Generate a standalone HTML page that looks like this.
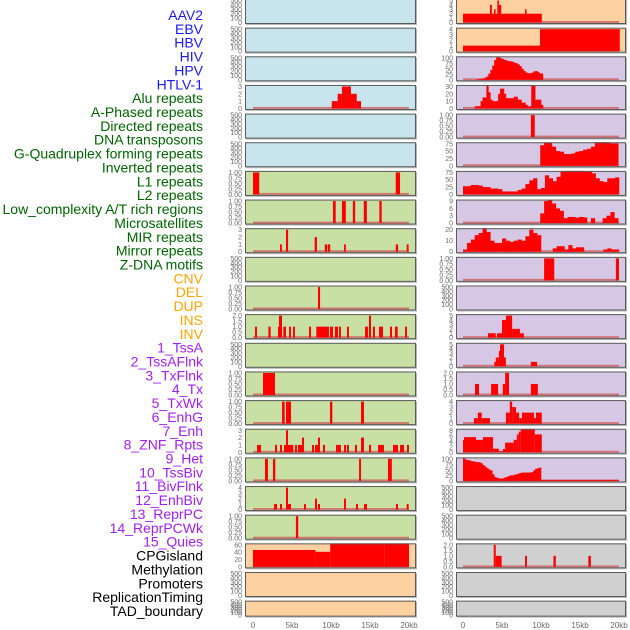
<!DOCTYPE html>
<html><head><meta charset="utf-8"><style>
html,body{margin:0;padding:0;background:#fff;}
svg{display:block;font-family:"Liberation Sans",sans-serif;}
</style></head><body>
<svg id="chart" width="630" height="630" viewBox="0 0 630 630" xmlns="http://www.w3.org/2000/svg"></svg>
<script>
// ---------- data ----------
const trackLabels = ["AAV2","EBV","HBV","HIV","HPV","HTLV-1","Alu repeats","A-Phased repeats","Directed repeats","DNA transposons","G-Quadruplex forming repeats","Inverted repeats","L1 repeats","L2 repeats","Low_complexity A/T rich regions","Microsatellites","MIR repeats","Mirror repeats","Z-DNA motifs","CNV","DEL","DUP","INS","INV","1_TssA","2_TssAFlnk","3_TxFlnk","4_Tx","5_TxWk","6_EnhG","7_Enh","8_ZNF_Rpts","9_Het","10_TssBiv","11_BivFlnk","12_EnhBiv","13_ReprPC","14_ReprPCWk","15_Quies","CPGisland","Methylation","Promoters","ReplicationTiming","TAD_boundary"];
const groupSizes = [6,13,5,15,5];
const groupColors = ["#1a1aee","#006400","#ffa500","#a020f0","#000000"];
const kbTicks = [0,5,10,15,20];
const kbTickLabels = ["0","5kb","10kb","15kb","20kb"];

const ticks500 = ["0","100","200","300","400","500"];
const ticks1 = ["0.00","0.25","0.50","0.75","1.00"];
const ticks2 = ["0.0","0.5","1.0","1.5","2.0"];
const ticks3 = ["0","1","2","3"];
const ticks4 = ["0","1","2","3","4"];
const ticks5 = ["0","1","2","3","4","5"];
const ticks100 = ["0","25","50","75","100"];
const ticks75 = ["0","25","50","75"];
const ticks30 = ["0","10","20","30"];
const ticks9 = ["0","3","6","9"];
const ticks20 = ["0","10","20"];
const ticks8 = ["0","2","4","6","8"];
const ticksCpg = ["0","20","40","60"];

// segments: [startKb, endKb, value]
const aluSegs = [[10.1,10.85,1],[10.85,11.4,2],[11.4,12.56,3],[12.56,13.3,2],[13.3,13.85,1]];
const l1Segs = [[0,0.8,1],[18.3,18.85,1]];
const l2Segs = [[10.25,10.6,1],[11.4,11.9,1],[12.8,13.1,1],[14.2,14.6,1],[16.2,16.5,1]];
const lowCompSegs = [[3.46,3.7,1],[4.23,4.5,3],[7.9,8.2,2],[9.2,9.5,1],[9.6,9.9,1],[11.67,11.9,1],[18.3,18.6,1],[19.7,19.95,1]];
const mirSegs = [[8.33,8.6,1]];
const mirrorSegs = [[0.26,0.51,1],[1.97,2.26,1],[3.2,3.33,1],[3.33,3.72,2],[3.89,4.23,1],[4.62,4.87,1],[5.13,5.38,1],[7.18,7.44,1],[8.12,9.74,1],[9.87,10.26,1],[10.5,10.9,1],[11.03,11.28,1],[12.05,12.3,1],[14.36,14.74,1],[14.87,15.13,2],[15.38,15.64,1],[16.15,16.67,1],[17.56,17.82,1],[18.2,18.55,1],[19.49,19.74,1]];
const delSegs = [[1.28,2.82,1]];
const dupSegs = [[3.72,4.06,1],[4.23,4.87,1],[9.87,10.17,1],[13.85,14.23,1]];
const insSegs = [[0.51,1.03,1],[2.82,3.08,1],[3.46,3.72,1],[3.97,4.23,1],[4.23,4.49,3],[4.49,5.17,1],[5.38,5.64,1],[5.77,6.28,1],[6.28,6.54,2],[7.56,7.82,1],[7.95,8.33,1],[8.33,8.59,2],[8.97,9.23,1],[10.64,11.28,1],[11.67,11.92,1],[12.05,12.31,1],[13.08,13.33,1],[13.85,14.23,2],[14.87,15.13,1],[16.03,16.79,1],[17.95,18.59,1],[18.85,19.36,1],[19.74,20.0,1]];
const invSegs = [[1.54,1.92,1],[2.56,2.86,1],[13.6,13.85,1],[17.3,17.8,1]];
const tssaSegs = [[2.69,3.08,1],[3.46,3.72,1],[4.23,4.49,4],[4.49,4.87,1],[6.54,6.79,1],[7.95,8.2,2],[8.33,8.59,1],[11.67,11.92,2],[13.2,13.46,1],[14.23,14.62,1],[18.33,18.59,1],[19.7,19.95,1]];
const txflnkSegs = [[5.5,5.8,1]];
const cpgSegs = [[0,8,46],[8,9.9,41],[9.9,16.9,80],[16.9,20,78]];

const rAav2Segs = [[0,10.1,2],[3.46,3.7,4],[3.97,4.15,3],[4.4,4.6,5],[4.6,4.9,4],[7.95,8.15,3]];
const rEbvSegs = [[0,9.87,1],[9.87,20.1,4]];
const rHtlvSegs = [[8.7,9.2,1]];
const rMicroSegs = [[10.4,11.7,1],[19.6,20,1]];
const rTssbivSegs = [[3.2,4.2,1],[4.36,5.0,1],[5.0,5.5,4],[5.5,6.3,5],[6.3,7.3,2],[7.3,7.8,1]];
const rBivflnkSegs = [[4.0,4.2,1],[4.2,4.6,2],[4.6,4.75,3.5],[4.75,5.26,5],[5.26,5.5,2],[8.7,9.5,1]];
const rEnhbivSegs = [[1.54,2.05,1],[3.6,4.5,1],[5.1,5.4,1],[5.4,5.9,2],[8.7,9.6,1]];
const rReprpcSegs = [[1.4,1.9,1],[1.9,2.4,2],[2.4,3.46,1],[5.5,6.0,2],[6.0,6.3,4],[6.3,6.8,3],[6.8,7.2,2],[7.2,7.56,1],[7.56,9.1,2],[9.1,9.35,1],[9.35,10.1,2]];
const rReprpcwkSegs = [[0,0.13,4.5],[0.13,1.67,5.5],[1.67,2.56,4.5],[2.56,3.85,5.5],[3.85,4.6,1.3],[4.6,5.1,0.3],[5.1,5.4,1.2],[5.4,6.5,3.5],[6.5,6.9,4.5],[6.9,7.15,6.5],[7.15,7.4,7.5],[7.4,9.2,8.5],[9.2,10.1,6.5]];
const rQuiesSegs = [[10,20,4]];
const rMethSegs = [[3.94,4.2,2],[4.2,4.95,1],[7.95,8.2,1],[11.6,11.9,1],[16.07,16.4,1]];

// binned series: start kb, bin width kb, values
const rHivStart = 1.75, rHivBin = 0.25;
const rHivVals = [3,3,5,6,10,15,28,45,65,90,103,103,98,95,90,88,85,84,82,78,75,70,62,50,40,33,30,30,32,38,40,36,30,28];
const rHpvStart = 1.5, rHpvBin = 0.25;
const rHpvVals = [3,3,3,10,15,15,33,22,12,10,10,10,20,27,27,20,14,14,14,14,16,16,12,12,8,8,5,3,3,33,33,12,12,12,5];
const rTxwkStart = 9.9, rTxwkBin = 0.5;
const rTxwkVals = [70,80,78,65,50,48,40,40,42,48,50,55,58,65,85,93,90,80,76,76];
const rEnhgStart = 0, rEnhgBin = 0.5;
const rEnhgVals = [28,28,32,32,30,25,25,20,20,18,10,10,10,10,15,20,35,48,55,18,22,65,55,45,60,80,85,92,92,88,83,80,78,72,55,45,42,55,55,58];
const rEnhStart = 9.9, rEnhBin = 0.5;
const rEnhVals = [4,9,11.5,8,6,5,2,2.5,2.5,2.2,2.5,2.3,0,2,0,0,2,3,4.5,2];
const rZnfStart = 0, rZnfBin = 0.5;
const rZnfVals = [2,8,11,15,17,25,18,10,8,8,12,10,9,10,11,10,14,20,17,15,0,0,0,3,5,5,2,6,3,4,4,0,0,0,0,0,2,3,2,2];
const rQuiesStart = 0, rQuiesBin = 0.25;
const rQuiesVals = [103,97,95,93,90,88,87,85,85,80,72,65,58,52,48,30,18,14,12,10,12,15,18,22,25,25,28,30,33,36,38,38,38,38,38,40,48,55,58,60];

// ---------- layout ----------
const BG = {blue:"#c8e4ec", green:"#c8e0a4", orange:"#ffd0a0", purple:"#d6c8e4", gray:"#d0d0d0"};
const cols = [{x0:245,x1:416,zero:253},{x0:456,x1:626,zero:463}];
const pxPerKb = 7.8;
function rowTop(r){ return -1 + 28.65*r; }
function rowH(r){ return r===21 ? 16 : 25; }

const panels = [];
function P(col,row,bg,ticks,segs,bins,name){ panels.push({col,row,bg,ticks,segs,bins,name}); }
// left column
P(0,0,"blue",ticks500,null,null,"aav2");
P(0,1,"blue",ticks500,null,null,"ebv");
P(0,2,"blue",ticks500,null,null,"hbv");
P(0,3,"blue",ticks3,aluSegs,null,"hiv");
P(0,4,"blue",ticks500,null,null,"hpv");
P(0,5,"blue",ticks500,null,null,"htlv1");
P(0,6,"green",ticks1,l1Segs,null,"alu");
P(0,7,"green",ticks1,l2Segs,null,"a-phased");
P(0,8,"green",ticks3,lowCompSegs,null,"directed");
P(0,9,"green",ticks500,null,null,"dna-transposons");
P(0,10,"green",ticks1,mirSegs,null,"g-quadruplex");
P(0,11,"green",ticks2,mirrorSegs,null,"inverted");
P(0,12,"green",ticks500,null,null,"l1");
P(0,13,"green",ticks1,delSegs,null,"l2");
P(0,14,"green",ticks1,dupSegs,null,"low-complexity");
P(0,15,"green",ticks3,insSegs,null,"microsatellites");
P(0,16,"green",ticks1,invSegs,null,"mir");
P(0,17,"green",ticks4,tssaSegs,null,"mirror");
P(0,18,"green",ticks1,txflnkSegs,null,"z-dna");
P(0,19,"orange",ticksCpg,cpgSegs,null,"cnv");
P(0,20,"orange",ticks500,null,null,"del");
P(0,21,"orange",ticks500,null,null,"dup");
// right column
P(1,0,"orange",ticks5,rAav2Segs,null,"ins");
P(1,1,"orange",ticks4,rEbvSegs,null,"inv");
P(1,2,"purple",ticks100,null,[rHivStart,rHivBin,rHivVals],"tssa");
P(1,3,"purple",ticks30,null,[rHpvStart,rHpvBin,rHpvVals],"tssaflnk");
P(1,4,"purple",ticks1,rHtlvSegs,null,"txflnk");
P(1,5,"purple",ticks75,null,[rTxwkStart,rTxwkBin,rTxwkVals],"tx");
P(1,6,"purple",ticks75,null,[rEnhgStart,rEnhgBin,rEnhgVals],"txwk");
P(1,7,"purple",ticks9,null,[rEnhStart,rEnhBin,rEnhVals],"enhg");
P(1,8,"purple",ticks20,null,[rZnfStart,rZnfBin,rZnfVals],"enh");
P(1,9,"purple",ticks1,rMicroSegs,null,"znf-rpts");
P(1,10,"purple",ticks500,null,null,"het");
P(1,11,"purple",ticks5,rTssbivSegs,null,"tssbiv");
P(1,12,"purple",ticks5,rBivflnkSegs,null,"bivflnk");
P(1,13,"purple",ticks2,rEnhbivSegs,null,"enhbiv");
P(1,14,"purple",ticks4,rReprpcSegs,null,"reprpc");
P(1,15,"purple",ticks8,rReprpcwkSegs,null,"reprpcwk");
P(1,16,"purple",ticks100,rQuiesSegs,[rQuiesStart,rQuiesBin,rQuiesVals],"quies");
P(1,17,"gray",ticks500,null,null,"cpgisland");
P(1,18,"gray",ticks500,null,null,"methylation");
P(1,19,"gray",ticks2,rMethSegs,null,"promoters");
P(1,20,"gray",ticks500,null,null,"replication-timing");
P(1,21,"gray",ticks500,null,null,"tad-boundary");

// ---------- drawing ----------
const NS = "http://www.w3.org/2000/svg";
const svg = document.getElementById("chart");
function mk(tag, attrs, parent){
  const e = document.createElementNS(NS, tag);
  for (const k in attrs) e.setAttribute(k, attrs[k]);
  (parent||svg).appendChild(e);
  return e;
}

// track labels
let gi = 0, gc = 0;
trackLabels.forEach((lab, i) => {
  const color = groupColors[gi];
  const t = mk("text", {x:203, y:15 + i*13.86 + 5, "text-anchor":"end", "font-size":"14", fill:color});
  t.textContent = lab;
  
  
  gc++; if (gc >= groupSizes[gi]) { gi++; gc = 0; }
});

panels.forEach(p => {
  const c = cols[p.col];
  const T = rowTop(p.row), H = rowH(p.row);
  const g = mk("g", {});
  
  
  const tickVals = p.ticks.map(Number);
  const maxV = tickVals[tickVals.length-1];
  const yBase = T + H - 1.5;
  const ySpan = H - 3;
  const yScale = v => yBase - (v / maxV) * ySpan;
  const xScale = kb => c.zero + kb * pxPerKb;

  mk("rect", {x:c.x0+1, y:T+1, width:c.x1-c.x0, height:H, fill:"#b8b8b8"}, g);
  mk("rect", {x:c.x0, y:T, width:c.x1-c.x0, height:H, fill:BG[p.bg]}, g);

  // y tick labels
  p.ticks.forEach((tl, k) => {
    const t = mk("text", {x:c.x0-3, y:yScale(tickVals[k]) + 2.5, "text-anchor":"end", "font-size":"7", fill:"#6a6a6a"}, g);
    t.textContent = tl;
    
    
  });

  const hasData = p.segs || p.bins;
  const clip = "clip-" + p.col + "-" + p.row;
  const cp = mk("clipPath", {id:clip}, g);
  mk("rect", {x:c.x0, y:T, width:c.x1-c.x0, height:H}, cp);
  const dg = mk("g", {"clip-path":"url(#"+clip+")"}, g);

  if (hasData) {
    const bl = mk("rect", {x:xScale(0), y:yBase-1.5, width:xScale(20)-xScale(0), height:2, fill:"#d06060", opacity:"0.8"}, dg);
    
    
  }
  if (p.bins) {
    const [s, w, vals] = p.bins;
    vals.forEach((v, k) => {
      if (v <= 0) return;
      const x0 = xScale(s + k*w), x1 = xScale(s + (k+1)*w);
      const r = mk("rect", {x:x0, y:yScale(v), width:x1-x0+0.3, height:yBase - yScale(v), fill:"#ff0000"}, dg);
      
      
    });
  }
  if (p.segs) {
    p.segs.forEach(sg => {
      const x0 = xScale(sg[0]), x1 = xScale(sg[1]);
      const w = Math.max(1.6, x1 - x0);
      const r = mk("rect", {x:x0, y:yScale(sg[2]), width:w, height:yBase - yScale(sg[2]), fill:"#ff0000"}, dg);
      
      
    });
  }
  mk("rect", {x:c.x0+0.5, y:T+0.5, width:c.x1-c.x0-1, height:H-1, fill:"none", stroke:"#5a5a5a", "stroke-width":"1"}, g);
});

// x-axis tick labels
cols.forEach((c, ci) => {
  kbTicks.forEach((kb, k) => {
    const t = mk("text", {x:c.zero + kb*pxPerKb, y:628, "text-anchor":"middle", "font-size":"8", fill:"#6a6a6a"});
    t.textContent = kbTickLabels[k];
    
    
  });
});
</script>
</body></html>
